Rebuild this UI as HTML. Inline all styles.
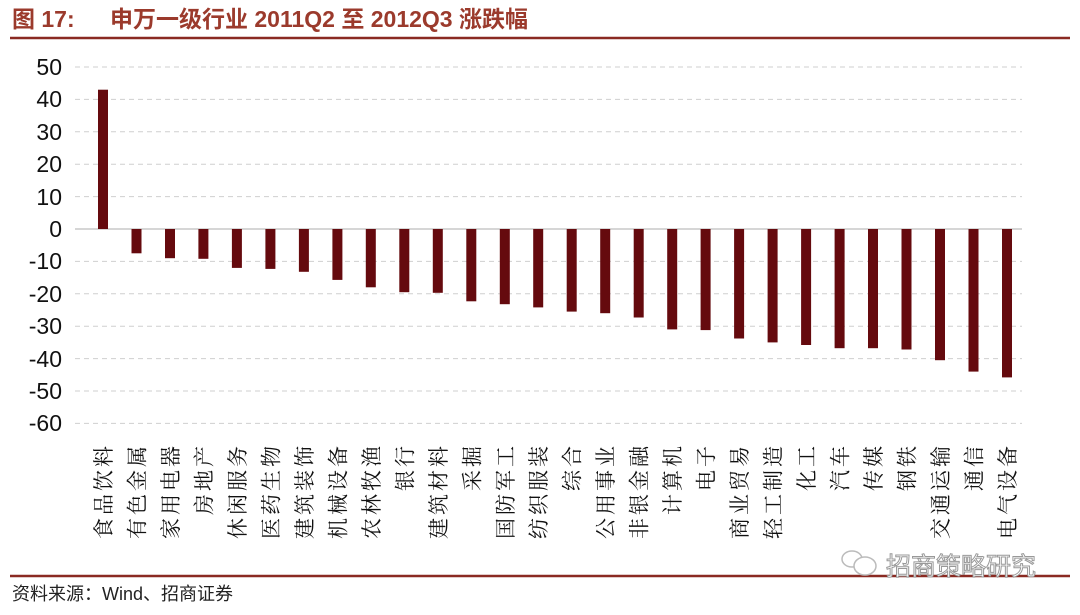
<!DOCTYPE html>
<html><head><meta charset="utf-8"><style>
html,body{margin:0;padding:0;background:#fff;width:1080px;height:615px;overflow:hidden}
svg{display:block}
</style></head><body>
<svg width="1080" height="615" xmlns="http://www.w3.org/2000/svg">
<text x="12" y="27" font-family="Liberation Sans, Noto Sans CJK SC, sans-serif" font-size="23" font-weight="bold" fill="#9b3a2c">图 17:</text>
<text x="110" y="27" font-family="Liberation Sans, Noto Sans CJK SC, sans-serif" font-size="23" font-weight="bold" fill="#9b3a2c">申万一级行业 2011Q2 至 2012Q3 涨跌幅</text>
<line x1="10" y1="38" x2="1070" y2="38" stroke="#8a2a22" stroke-width="2.5"/>
<g stroke="#cfcfcf" stroke-width="1" stroke-dasharray="5,4">
<line x1="75" y1="67" x2="1022" y2="67"/><line x1="75" y1="99.4" x2="1022" y2="99.4"/><line x1="75" y1="131.8" x2="1022" y2="131.8"/><line x1="75" y1="164.2" x2="1022" y2="164.2"/><line x1="75" y1="196.6" x2="1022" y2="196.6"/>
<line x1="75" y1="261.4" x2="1022" y2="261.4"/><line x1="75" y1="293.8" x2="1022" y2="293.8"/><line x1="75" y1="326.2" x2="1022" y2="326.2"/><line x1="75" y1="358.6" x2="1022" y2="358.6"/><line x1="75" y1="391" x2="1022" y2="391"/><line x1="75" y1="423.4" x2="1022" y2="423.4"/>
</g>
<line x1="75" y1="229" x2="1022" y2="229" stroke="#bdbdbd" stroke-width="1.2"/>
<g font-family="Liberation Sans, sans-serif" font-size="23" fill="#111" text-anchor="end">
<text x="62" y="75">50</text><text x="62" y="107">40</text><text x="62" y="140">30</text><text x="62" y="172">20</text><text x="62" y="205">10</text><text x="62" y="237">0</text><text x="62" y="269">-10</text><text x="62" y="302">-20</text><text x="62" y="334">-30</text><text x="62" y="367">-40</text><text x="62" y="399">-50</text><text x="62" y="431">-60</text>
</g>
<g fill="#650a0e">
<rect x="98" y="89.7" width="10" height="139.3"/>
<rect x="131.5" y="229" width="10" height="24.3"/>
<rect x="165" y="229" width="10" height="29.2"/>
<rect x="198.4" y="229" width="10" height="29.8"/>
<rect x="231.9" y="229" width="10" height="38.9"/>
<rect x="265.4" y="229" width="10" height="39.9"/>
<rect x="298.9" y="229" width="10" height="42.8"/>
<rect x="332.4" y="229" width="10" height="50.9"/>
<rect x="365.8" y="229" width="10" height="58.3"/>
<rect x="399.3" y="229" width="10" height="63.2"/>
<rect x="432.8" y="229" width="10" height="63.8"/>
<rect x="466.3" y="229" width="10" height="72.3"/>
<rect x="499.8" y="229" width="10" height="75.2"/>
<rect x="533.2" y="229" width="10" height="78.4"/>
<rect x="566.7" y="229" width="10" height="82.6"/>
<rect x="600.2" y="229" width="10" height="84.2"/>
<rect x="633.7" y="229" width="10" height="88.5"/>
<rect x="667.2" y="229" width="10" height="100.4"/>
<rect x="700.6" y="229" width="10" height="101.1"/>
<rect x="734.1" y="229" width="10" height="109.5"/>
<rect x="767.6" y="229" width="10" height="113.4"/>
<rect x="801.1" y="229" width="10" height="116"/>
<rect x="834.6" y="229" width="10" height="119.2"/>
<rect x="868" y="229" width="10" height="119.2"/>
<rect x="901.5" y="229" width="10" height="120.5"/>
<rect x="935" y="229" width="10" height="131.2"/>
<rect x="968.5" y="229" width="10" height="142.6"/>
<rect x="1002" y="229" width="10" height="148.4"/>
</g>
<g font-family="Liberation Serif, Noto Serif CJK SC, serif" font-size="21" fill="#111" text-anchor="end" letter-spacing="3">
<text transform="translate(111,443) rotate(-90)">食品饮料</text>
<text transform="translate(144.5,443) rotate(-90)">有色金属</text>
<text transform="translate(178,443) rotate(-90)">家用电器</text>
<text transform="translate(211.4,443) rotate(-90)">房地产</text>
<text transform="translate(244.9,443) rotate(-90)">休闲服务</text>
<text transform="translate(278.4,443) rotate(-90)">医药生物</text>
<text transform="translate(311.9,443) rotate(-90)">建筑装饰</text>
<text transform="translate(345.4,443) rotate(-90)">机械设备</text>
<text transform="translate(378.8,443) rotate(-90)">农林牧渔</text>
<text transform="translate(412.3,443) rotate(-90)">银行</text>
<text transform="translate(445.8,443) rotate(-90)">建筑材料</text>
<text transform="translate(479.3,443) rotate(-90)">采掘</text>
<text transform="translate(512.8,443) rotate(-90)">国防军工</text>
<text transform="translate(546.2,443) rotate(-90)">纺织服装</text>
<text transform="translate(579.7,443) rotate(-90)">综合</text>
<text transform="translate(613.2,443) rotate(-90)">公用事业</text>
<text transform="translate(646.7,443) rotate(-90)">非银金融</text>
<text transform="translate(680.2,443) rotate(-90)">计算机</text>
<text transform="translate(713.6,443) rotate(-90)">电子</text>
<text transform="translate(747.1,443) rotate(-90)">商业贸易</text>
<text transform="translate(780.6,443) rotate(-90)">轻工制造</text>
<text transform="translate(814.1,443) rotate(-90)">化工</text>
<text transform="translate(847.6,443) rotate(-90)">汽车</text>
<text transform="translate(881,443) rotate(-90)">传媒</text>
<text transform="translate(914.5,443) rotate(-90)">钢铁</text>
<text transform="translate(948,443) rotate(-90)">交通运输</text>
<text transform="translate(981.5,443) rotate(-90)">通信</text>
<text transform="translate(1015,443) rotate(-90)">电气设备</text>
</g>
<line x1="10" y1="576" x2="1070" y2="576" stroke="#8a2a22" stroke-width="2.5"/>
<g fill="#fff" stroke="#bbb" stroke-width="1.5"><ellipse cx="852" cy="559" rx="10" ry="8"/><ellipse cx="865" cy="566" rx="11" ry="9"/></g>
<text x="886" y="575" font-family="Liberation Sans, Noto Sans CJK SC, sans-serif" font-size="25" fill="#fff" stroke="#999" stroke-width="1">招商策略研究</text>
<text x="12" y="600" font-family="Liberation Sans, Noto Sans CJK SC, sans-serif" font-size="18" fill="#222">资料来源：Wind、招商证券</text>
</svg>
</body></html>
